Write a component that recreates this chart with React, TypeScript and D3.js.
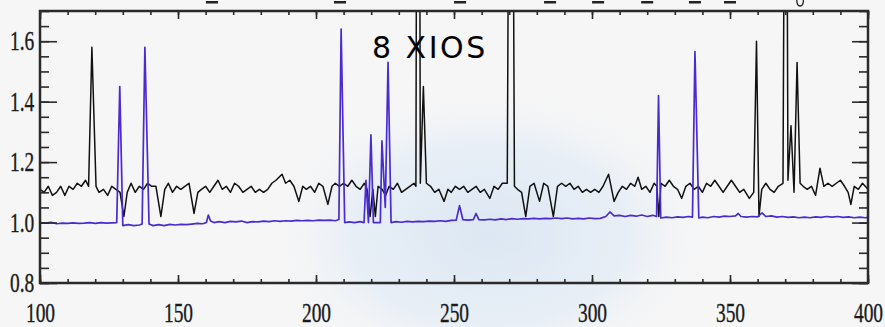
import React, { useEffect, useRef } from 'react';
import * as d3 from 'd3';

// spectrum traces: [wavelength, relative flux]
const blackTrace: [number, number][] = [
  [100, 1.11], [101.5, 1.1], [103, 1.12], [104.5, 1.09], [106, 1.1], [107.5, 1.12], [109, 1.09],
  [110.5, 1.12], [112, 1.11], [113.5, 1.13], [115, 1.12], [116.5, 1.14], [117.6, 1.12], [118.8, 1.58],
  [120.3, 1.12], [121.4, 1.1], [123, 1.11], [124.5, 1.09], [126, 1.12], [127.5, 1.11], [129, 1.1],
  [130.4, 1.02], [131.6, 1.1], [133, 1.13], [134.5, 1.1], [136, 1.12], [137.5, 1.11], [139, 1.13],
  [140.5, 1.12], [142, 1.12], [143.8, 1.02], [145.2, 1.11], [146.5, 1.13], [148, 1.1], [149.5, 1.12],
  [151, 1.11], [152.5, 1.12], [154, 1.13], [155.8, 1.03], [157.2, 1.1], [158.5, 1.11], [160, 1.12],
  [161.5, 1.1], [163, 1.12], [164.5, 1.14], [166, 1.11], [167.5, 1.12], [169, 1.1], [170.5, 1.13],
  [172, 1.12], [173.5, 1.1], [175, 1.11], [176.5, 1.12], [178, 1.1], [179.5, 1.11], [181, 1.1],
  [182.5, 1.11], [184, 1.13], [185.5, 1.14], [187.7, 1.16], [189, 1.13], [190.5, 1.14], [192, 1.12],
  [193.8, 1.07], [195.2, 1.12], [196.5, 1.11], [198, 1.12], [199.5, 1.1], [201, 1.13], [202.5, 1.12],
  [204.3, 1.06], [205.8, 1.12], [207, 1.13], [208.5, 1.12], [210, 1.13], [211.5, 1.12], [213, 1.14],
  [214.5, 1.12], [216, 1.11], [217.5, 1.13], [218.5, 1.11], [219.6, 1.02], [220.6, 1.11], [221.5, 1.02],
  [222.5, 1.12], [224, 1.11], [225.2, 1.09], [226.5, 1.12], [228, 1.11], [229.5, 1.13], [231, 1.1],
  [232.5, 1.11], [234, 1.12], [235.5, 1.13], [236.2, 1.12], [236.4, 1.95], [237.6, 1.95], [237.8, 1.13],
  [238.9, 1.45], [240, 1.13], [241.5, 1.12], [243, 1.1], [244.5, 1.11], [246.4, 1.07], [247.8, 1.11],
  [249, 1.1], [250.5, 1.12], [252, 1.11], [253.5, 1.12], [255, 1.1], [256.5, 1.11], [258, 1.12],
  [259.5, 1.1], [261, 1.11], [263, 1.08], [264.5, 1.12], [266, 1.11], [267.5, 1.13], [269.3, 1.13],
  [269.7, 1.95], [271.5, 1.95], [271.9, 1.12], [273, 1.11], [274.5, 1.1], [276, 1.02], [277.5, 1.12],
  [279, 1.13], [281, 1.07], [282.5, 1.13], [284, 1.12], [286, 1.02], [287.5, 1.12], [289, 1.13],
  [290.5, 1.12], [292, 1.13], [293.5, 1.11], [295, 1.12], [296.5, 1.1], [298, 1.11], [299.5, 1.1],
  [301, 1.11], [302.5, 1.1], [304, 1.12], [306, 1.16], [308, 1.07], [309.5, 1.1], [311, 1.12],
  [312.5, 1.11], [314, 1.13], [315.5, 1.12], [316.7, 1.15], [318, 1.11], [319.5, 1.12], [321, 1.1],
  [322.5, 1.13], [323.5, 1.12], [324.2, 1.02], [325, 1.13], [326.5, 1.12], [328, 1.14], [329.5, 1.12],
  [331, 1.11], [332.5, 1.08], [334, 1.12], [335.5, 1.13], [337, 1.11], [338.5, 1.12], [340, 1.1],
  [341.5, 1.13], [343, 1.12], [344.5, 1.14], [346, 1.12], [347.5, 1.1], [349, 1.12], [350.5, 1.14],
  [352, 1.12], [353.5, 1.1], [355, 1.11], [357, 1.08], [358.6, 1.1], [359.6, 1.6], [360.5, 1.02],
  [361.5, 1.11], [363, 1.13], [364.5, 1.11], [366, 1.1], [367.5, 1.12], [369.2, 1.13], [369.6, 1.95],
  [370.7, 1.95], [371, 1.14], [372.1, 1.32], [373.2, 1.1], [374.3, 1.53], [375.4, 1.13], [376.5, 1.12],
  [378, 1.11], [379.5, 1.12], [381, 1.09], [382.6, 1.18], [384, 1.12], [385.5, 1.13], [387, 1.12],
  [388.5, 1.13], [390, 1.14], [391.5, 1.12], [392.8, 1.1], [393.8, 1.06], [395, 1.12], [396.5, 1.11],
  [398, 1.13], [399, 1.12], [400, 1.11],
];

const blueTrace: [number, number][] = [
  [100, 1.0], [102, 0.998], [104, 1.001], [106, 0.996], [108, 0.998], [110, 0.997], [112, 0.999],
  [114, 0.997], [116, 0.998], [118, 1.0], [120, 0.997], [122, 1.0], [124, 0.998], [126, 0.999],
  [127.8, 1.0], [128.9, 1.45], [130, 0.99], [132, 0.993], [134, 0.99], [136, 0.992], [137, 0.995],
  [138, 1.58], [139.5, 0.995], [141, 0.99], [143, 0.993], [145, 0.99], [147, 0.994], [149, 0.992],
  [151, 0.994], [153, 0.993], [155, 0.995], [157, 0.997], [159, 0.996], [160.3, 1.0], [161, 1.025],
  [161.8, 1.005], [163, 1.0], [165, 1.003], [167, 1.0], [169, 1.004], [171, 1.002], [173, 1.005],
  [175, 1.0], [177, 1.003], [179, 1.002], [181, 1.005], [183, 1.003], [185, 1.006], [187, 1.004],
  [189, 1.006], [191, 1.005], [193, 1.007], [195, 1.006], [197, 1.007], [199, 1.006], [201, 1.008],
  [203, 1.007], [205, 1.008], [207, 1.006], [208.3, 1.01], [209.1, 1.64], [210.4, 1.0], [212, 1.002],
  [214, 1.0], [216, 1.003], [217.4, 1.0], [218.1, 1.14], [219.0, 1.0], [219.9, 1.29], [220.8, 1.0],
  [222, 1.0], [223.3, 1.0], [223.9, 1.27], [225.1, 1.05], [226.1, 1.53], [227.2, 1.0], [229, 1.003],
  [231, 1.001], [233, 1.004], [235, 1.002], [237, 1.004], [239, 1.003], [241, 1.005], [243, 1.004],
  [245, 1.006], [247, 1.004], [249, 1.007], [250.8, 1.008], [252, 1.056], [253.2, 1.01], [255, 1.008],
  [257, 1.01], [258, 1.03], [259, 1.01], [261, 1.009], [263, 1.011], [265, 1.009], [267, 1.012],
  [269, 1.01], [271, 1.013], [273, 1.011], [275, 1.013], [277, 1.012], [279, 1.014], [281, 1.012],
  [283, 1.014], [285, 1.013], [287, 1.015], [289, 1.013], [291, 1.015], [293, 1.012], [295, 1.014],
  [297, 1.012], [299, 1.015], [301, 1.013], [303, 1.014], [305, 1.02], [306.5, 1.035], [308, 1.022],
  [310, 1.024], [312, 1.02], [314, 1.024], [316, 1.021], [318, 1.025], [320, 1.02], [322, 1.024],
  [323.4, 1.02], [324.1, 1.42], [324.9, 1.015], [327, 1.018], [329, 1.016], [331, 1.019], [333, 1.017],
  [335, 1.02], [336.4, 1.018], [337.3, 1.566], [338.7, 1.015], [340, 1.018], [342, 1.016], [344, 1.02],
  [346, 1.018], [348, 1.021], [350, 1.02], [352, 1.022], [353, 1.03], [354, 1.02], [356, 1.018],
  [358, 1.02], [360, 1.019], [361.6, 1.032], [363, 1.02], [365, 1.022], [367, 1.018], [369, 1.02],
  [371, 1.017], [373, 1.019], [375, 1.016], [377, 1.018], [379, 1.016], [381, 1.019], [383, 1.017],
  [385, 1.02], [387, 1.018], [389, 1.02], [391, 1.017], [393, 1.019], [395, 1.016], [397, 1.018],
  [399, 1.016], [400, 1.017],
];

const xTickLabels = [100, 150, 200, 250, 300, 350, 400];
const yTickLabels = [0.8, 1.0, 1.2, 1.4, 1.6];
// cut-off line identification marks above the frame
const lineMarks = [162.3, 208.7, 252.2, 284.8, 302.2, 320, 337.3, 350];
const title = '8 XIOS';

export default function App() {
  const svgRef = useRef<SVGSVGElement>(null);
  const W = 885, H = 327;
  const box = { left: 40, right: 868, top: 11, bottom: 283 };

  useEffect(() => {
    const svg = d3.select(svgRef.current);
    svg.selectAll('*').remove();

    const x = d3.scaleLinear().domain([100, 400]).range([box.left, box.right]);
    const y = d3.scaleLinear().domain([0.8, 1.7]).range([box.bottom, box.top]);

    const defs = svg.append('defs');
    const grad = defs.append('radialGradient').attr('id', 'blob');
    grad.append('stop').attr('offset', '0%').attr('stop-color', '#dce7f3').attr('stop-opacity', 1);
    grad.append('stop').attr('offset', '60%').attr('stop-color', '#e5edf6').attr('stop-opacity', 0.85);
    grad.append('stop').attr('offset', '100%').attr('stop-color', '#f6f6f6').attr('stop-opacity', 0);
    defs.append('clipPath').attr('id', 'plotclip')
      .append('rect')
      .attr('x', box.left).attr('y', box.top)
      .attr('width', box.right - box.left).attr('height', box.bottom - box.top);

    svg.append('rect').attr('width', W).attr('height', H).attr('fill', '#f6f6f6');
    svg.append('ellipse')
      .attr('cx', 490).attr('cy', 235).attr('rx', 230).attr('ry', 150)
      .attr('fill', 'url(#blob)');

    // top marks (bottoms of clipped labels)
    svg.append('g').selectAll('rect').data(lineMarks).join('rect')
      .attr('x', d => x(d) - 6).attr('y', 1)
      .attr('width', 12).attr('height', 2.5)
      .attr('fill', '#222');
    svg.append('path')
      .attr('d', `M${x(374.2)},0 Q${x(374.2)},6 ${x(375.4)},6 Q${x(376.6)},6 ${x(376.6)},0`)
      .attr('fill', 'none').attr('stroke', '#222').attr('stroke-width', 1.3);

    const line = d3.line<[number, number]>().x(d => x(d[0])).y(d => y(d[1]));
    const plot = svg.append('g').attr('clip-path', 'url(#plotclip)');
    plot.append('path').datum(blackTrace)
      .attr('fill', 'none').attr('stroke', '#111').attr('stroke-width', 1.5)
      .attr('stroke-linejoin', 'round').attr('d', line);
    plot.append('path').datum(blueTrace)
      .attr('fill', 'none').attr('stroke', '#4a2bd0').attr('stroke-width', 1.7)
      .attr('stroke-linejoin', 'round').attr('d', line);

    const minorX = d3.range(100, 401, 10);
    const minorY = d3.range(0.8, 1.701, 0.05);
    const styleAxis = (g: d3.Selection<SVGGElement, unknown, null, undefined>) => {
      g.select('.domain').remove();
      g.selectAll('line').attr('stroke', '#2a2a2a').attr('stroke-width', 1.6);
    };
    const labelFont = (g: d3.Selection<SVGGElement, unknown, null, undefined>) => {
      g.selectAll('text')
        .attr('font-family', '"Liberation Serif", "DejaVu Serif", serif')
        .attr('font-size', 27)
        .attr('fill', '#1a1a1a')
        .attr('stroke', '#1a1a1a').attr('stroke-width', 0.35)
        .attr('transform', 'scale(0.72,1)');
    };

    // left
    svg.append('g').attr('transform', `translate(${box.left},0)`)
      .call(d3.axisLeft(y).tickValues(minorY).tickSizeInner(-9).tickSizeOuter(0).tickFormat(() => ''))
      .call(styleAxis);
    svg.append('g').attr('transform', `translate(${box.left},0)`)
      .call(d3.axisLeft(y).tickValues(yTickLabels).tickSizeInner(-17).tickSizeOuter(0)
        .tickPadding(8).tickFormat(d3.format('.1f')))
      .call(styleAxis).call(labelFont);
    // right
    svg.append('g').attr('transform', `translate(${box.right},0)`)
      .call(d3.axisRight(y).tickValues(minorY).tickSizeInner(-9).tickSizeOuter(0).tickFormat(() => ''))
      .call(styleAxis);
    svg.append('g').attr('transform', `translate(${box.right},0)`)
      .call(d3.axisRight(y).tickValues(yTickLabels).tickSizeInner(-16).tickSizeOuter(0).tickFormat(() => ''))
      .call(styleAxis);
    // bottom
    svg.append('g').attr('transform', `translate(0,${box.bottom})`)
      .call(d3.axisBottom(x).tickValues(minorX).tickSizeInner(-4).tickSizeOuter(0).tickFormat(() => ''))
      .call(styleAxis);
    svg.append('g').attr('transform', `translate(0,${box.bottom})`)
      .call(d3.axisBottom(x).tickValues(xTickLabels).tickSizeInner(-8).tickSizeOuter(0)
        .tickPadding(20).tickFormat(d3.format('d')))
      .call(styleAxis).call(labelFont);
    // top
    svg.append('g').attr('transform', `translate(0,${box.top})`)
      .call(d3.axisTop(x).tickValues(minorX).tickSizeInner(-4).tickSizeOuter(0).tickFormat(() => ''))
      .call(styleAxis);
    svg.append('g').attr('transform', `translate(0,${box.top})`)
      .call(d3.axisTop(x).tickValues(xTickLabels).tickSizeInner(-8).tickSizeOuter(0).tickFormat(() => ''))
      .call(styleAxis);

    svg.append('rect')
      .attr('x', box.left).attr('y', box.top)
      .attr('width', box.right - box.left).attr('height', box.bottom - box.top)
      .attr('fill', 'none').attr('stroke', '#2a2a2a').attr('stroke-width', 2.5);

    svg.append('text')
      .attr('x', 372).attr('y', 58)
      .attr('font-family', '"DejaVu Sans", sans-serif')
      .attr('font-size', 30).attr('letter-spacing', 2.5)
      .attr('fill', '#000')
      .text(title);
  }, []);

  return (
    <svg ref={svgRef} width={W} height={H}
      style={{ position: 'absolute', left: 0, top: 0, display: 'block' }} />
  );
}
